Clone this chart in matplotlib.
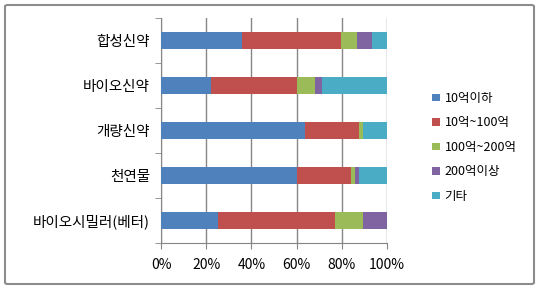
import numpy as np
import matplotlib.pyplot as plt
from matplotlib.patches import FancyBboxPatch

plt.rcParams['font.family'] = ['Noto Sans CJK KR', 'DejaVu Sans']

# Categories (top to bottom) and series shares in %
categories = ['합성신약', '바이오신약', '개량신약', '천연물', '바이오시밀러(베터)']
series_names = ['10억이하', '10억~100억', '100억~200억', '200억이상', '기타']
below_1b = [36.0, 22.2, 63.7, 60.3, 25.2]
b1_to_10b = [43.5, 37.9, 24.0, 23.7, 52.0]
b10_to_20b = [7.1, 8.0, 1.9, 1.8, 12.4]
above_20b = [6.7, 3.3, 0.0, 1.9, 10.4]
others = [6.7, 28.6, 10.4, 12.3, 0.0]
colors = ['#4F81BD', '#C0504D', '#9BBB59', '#8064A2', '#4BACC6']

data = [below_1b, b1_to_10b, b10_to_20b, above_20b, others]

fig = plt.figure(figsize=(5.4, 2.89), dpi=100)
ax = fig.add_axes([161 / 540, 1 - 243 / 289, 226 / 540, 225 / 289])

# Border around the whole chart
fig.patches.append(FancyBboxPatch((5 / 540, 5 / 289), 529 / 540, 279 / 289,
                                  boxstyle='round,pad=0,rounding_size=0.005',
                                  transform=fig.transFigure, fill=False,
                                  edgecolor='#8C8C8C', linewidth=1.5))

y = np.arange(len(categories))[::-1]
left = np.zeros(len(categories))
for vals, name, col in zip(data, series_names, colors):
    vals = np.array(vals)
    ax.barh(y, vals, left=left, height=0.38, color=col, label=name, zorder=3)
    left += vals

ax.set_xlim(0, 100)
ax.set_ylim(-0.5, len(categories) - 0.5)
ax.set_xticks(np.arange(0, 101, 20))
ax.set_xticklabels(['%d%%' % v for v in range(0, 101, 20)], fontsize=10)
ax.set_yticks(y)
ax.set_yticklabels(categories, fontsize=10.5)
ax.tick_params(axis='y', length=0, pad=8)
ax.set_yticks(np.arange(-0.5, len(categories), 1), minor=True)
ax.tick_params(axis='y', which='minor', length=4, color='#868686', direction='out')
ax.tick_params(axis='x', length=4, color='#868686', direction='out', pad=7)
ax.grid(axis='x', color='#868686', linewidth=1, zorder=0)
for side in ['top', 'right']:
    ax.spines[side].set_visible(False)
for side in ['left', 'bottom']:
    ax.spines[side].set_color('#868686')

ax.legend(loc='center left', bbox_to_anchor=(421 / 540, 0.49),
          bbox_transform=fig.transFigure, frameon=False, fontsize=9,
          handlelength=0.6, handleheight=0.6, handletextpad=0.4,
          labelspacing=0.92)

fig.savefig('out.png', dpi=100)
